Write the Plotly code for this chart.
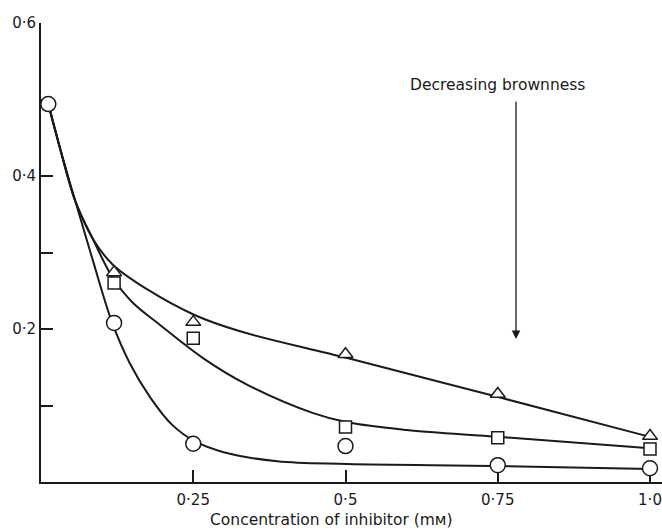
import plotly.graph_objects as go

# Measured absorbance at each inhibitor concentration (mM)
conc_circle = [0.012, 0.12, 0.25, 0.5, 0.75, 1.0]
abs_circle = [0.494, 0.208, 0.050, 0.047, 0.022, 0.018]

conc_sym = [0.12, 0.25, 0.5, 0.75, 1.0]
abs_square = [0.260, 0.188, 0.072, 0.058, 0.043]
abs_triangle = [0.274, 0.209, 0.167, 0.115, 0.060]

# Hand-fitted curves (guide points along each drawn line)
fit_circle_x = [0.012, 0.03, 0.056, 0.085, 0.117, 0.146, 0.179, 0.215, 0.253, 0.30, 0.388, 0.503, 0.751, 1.0]
fit_circle_y = [0.494, 0.44, 0.368, 0.290, 0.208, 0.155, 0.111, 0.075, 0.053, 0.039, 0.027, 0.0235, 0.021, 0.017]

fit_square_x = [0.012, 0.03, 0.056, 0.085, 0.117, 0.150, 0.196, 0.266, 0.339, 0.447, 0.503, 0.60, 0.751, 1.0]
fit_square_y = [0.494, 0.44, 0.368, 0.318, 0.268, 0.235, 0.205, 0.162, 0.127, 0.090, 0.078, 0.068, 0.059, 0.044]

fit_triangle_x = [0.012, 0.03, 0.056, 0.085, 0.118, 0.174, 0.253, 0.327, 0.503, 0.751, 1.0]
fit_triangle_y = [0.494, 0.44, 0.368, 0.318, 0.284, 0.252, 0.218, 0.197, 0.162, 0.111, 0.059]

x_tickvals = [0.25, 0.5, 0.75, 1.0]
x_ticktext = ["0·25", "0·5", "0·75", "1·0"]
y_tickvals = [0.1, 0.2, 0.3, 0.4, 0.5, 0.6]
y_ticktext = ["", "0·2", "", "0·4", "", "0·6"]

FONT = "DejaVu Sans"
INK = "#1a1a1a"

fig = go.Figure()

line_style = dict(color=INK, width=2, shape="spline", smoothing=1.0)
for fx, fy in [(fit_circle_x, fit_circle_y), (fit_square_x, fit_square_y), (fit_triangle_x, fit_triangle_y)]:
    fig.add_trace(go.Scatter(x=fx, y=fy, mode="lines", line=line_style,
                             hoverinfo="skip", showlegend=False))

fig.add_trace(go.Scatter(x=conc_circle, y=abs_circle, mode="markers",
                         marker=dict(symbol="circle", size=15, color="white",
                                     line=dict(color=INK, width=1.5)),
                         showlegend=False, cliponaxis=False))
fig.add_trace(go.Scatter(x=conc_sym, y=abs_square, mode="markers",
                         marker=dict(symbol="square", size=12, color="white",
                                     line=dict(color=INK, width=1.5)),
                         showlegend=False, cliponaxis=False))
fig.add_trace(go.Scatter(x=conc_sym, y=abs_triangle, mode="markers",
                         marker=dict(symbol="triangle-up", size=13, color="white",
                                     line=dict(color=INK, width=1.5)),
                         showlegend=False, cliponaxis=False))

# Arrow indicating decreasing brownness
fig.add_annotation(x=0.78, y=0.187, ax=0.78, ay=0.499, xref="x", yref="y",
                   axref="x", ayref="y", text="", showarrow=True,
                   arrowhead=2, arrowsize=1.3, arrowwidth=1.3, arrowcolor=INK)
fig.add_annotation(x=0.749, y=0.519, xref="x", yref="y", text="Decreasing brownness",
                   showarrow=False, font=dict(family=FONT, size=15.5, color=INK))

fig.add_annotation(x=0.467, y=-0.083, xref="paper", yref="paper",
                   xanchor="center", yanchor="middle",
                   text="Concentration of inhibitor (mᴍ)", showarrow=False,
                   font=dict(family=FONT, size=15.5, color=INK))

fig.update_xaxes(range=[0, 1.0197], showline=True, linecolor=INK, linewidth=2,
                 ticks="inside", ticklen=12, tickwidth=1.5, tickcolor=INK,
                 tickvals=x_tickvals, ticktext=x_ticktext, showgrid=False,
                 zeroline=False, layer="below traces", ticklabelstandoff=3,
                 ticklabeloverflow="allow",
                 tickfont=dict(family=FONT, size=15, color=INK))
fig.update_yaxes(range=[0, 0.6], showline=True, linecolor=INK, linewidth=2,
                 ticks="inside", ticklen=12, tickwidth=1.5, tickcolor=INK,
                 tickvals=y_tickvals, ticktext=y_ticktext, showgrid=False,
                 zeroline=False, layer="below traces",
                 tickfont=dict(family=FONT, size=15, color=INK))

fig.update_layout(width=662, height=532, margin=dict(l=41, r=0, t=23, b=50),
                  plot_bgcolor="white", paper_bgcolor="white", showlegend=False)

fig.write_html("out.html")
